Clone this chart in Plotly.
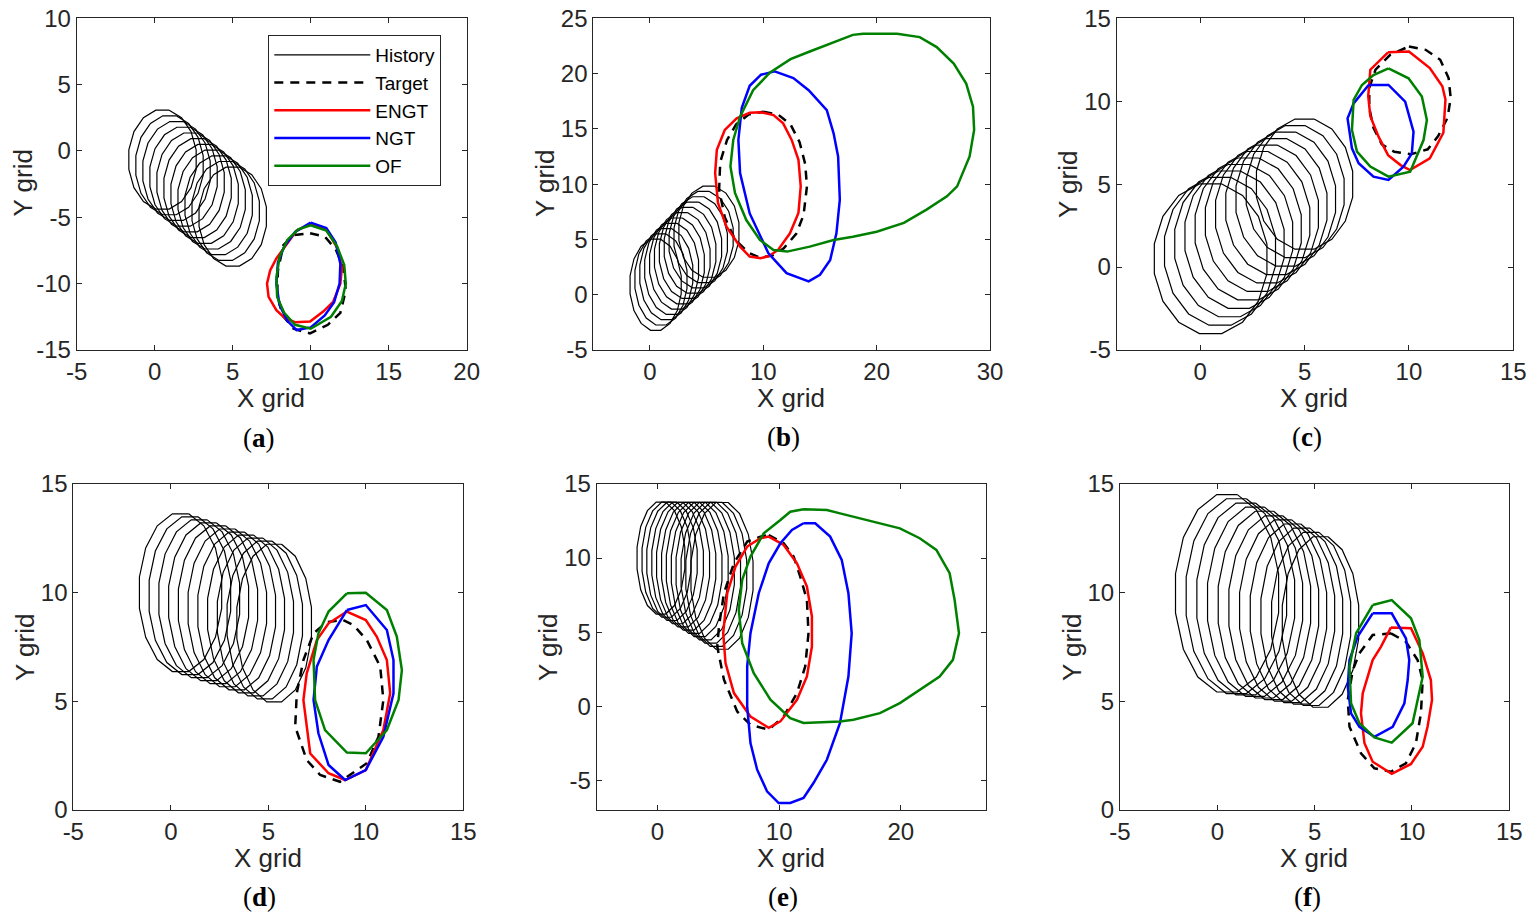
import numpy as np
import plotly.graph_objects as go

# ---------------------------------------------------------------------------
# data (grid units)
# history ellipses: centre / semi-axes per time step
# target and prediction contours: polygon vertices
# ---------------------------------------------------------------------------

# (a)
A_HIST_CX = [0.5, 0.95, 1.4, 1.85, 2.3, 2.75, 3.2, 3.65, 4.1, 4.55, 5.0]
A_HIST_CY = [-0.65, -1.08, -1.51, -1.94, -2.37, -2.8, -3.23, -3.66, -4.09, -4.52, -4.95]
A_HIST_RX = [2.2, 2.2, 2.2, 2.2, 2.2, 2.2, 2.2, 2.2, 2.2, 2.2, 2.2]
A_HIST_RY = [3.8, 3.8, 3.8, 3.8, 3.8, 3.8, 3.8, 3.8, 3.8, 3.8, 3.8]
A_TARGET = [(9.96, -6.2), (10.9, -6.45), (11.6, -7.4), (12.1, -8.8), (12.25, -10.5), (11.9, -12.2),
            (11.1, -13.1), (9.96, -13.75), (8.9, -13.4), (8.2, -12.4), (7.85, -10.8), (7.9, -9.0),
            (8.25, -7.1), (8.9, -6.35)]
A_ENGT = [(10, -5.5), (11, -5.9), (11.7, -7.3), (12.0, -8.8), (11.9, -10), (11.45, -11.35), (10.8, -12.1),
          (9.96, -12.85), (9.0, -12.9), (8.35, -12.6), (7.8, -12), (7.3, -11), (7.2, -10), (7.4, -9),
          (7.8, -8.1), (8.4, -7.1), (9.1, -6.0)]
A_NGT = [(10, -5.4), (11, -5.8), (11.6, -6.9), (11.9, -8.5), (11.85, -10), (11.5, -11.4), (10.9, -12.4),
         (10, -13.3), (9.1, -13.5), (8.5, -12.8), (8.0, -11.6), (7.8, -10), (7.9, -8.4), (8.3, -7.2), (9.0, -6.1)]
A_OF = [(10, -5.6), (11, -6.0), (11.7, -7.2), (12.15, -8.6), (12.25, -10), (12.0, -11.3), (11.3, -12.5),
        (10, -13.4), (9, -13.1), (8.3, -12.2), (7.85, -11), (7.8, -9.6), (8.0, -8.0), (8.5, -6.7), (9.2, -5.9)]

# (b)
B_HIST_CX = [0.5, 0.97, 1.44, 1.91, 2.38, 2.85, 3.32, 3.79, 4.26, 4.73, 5.2]
B_HIST_CY = [0.9, 1.38, 1.86, 2.34, 2.82, 3.3, 3.78, 4.26, 4.74, 5.22, 5.7]
B_HIST_RX = [2.3, 2.34, 2.38, 2.42, 2.46, 2.5, 2.54, 2.58, 2.62, 2.66, 2.7]
B_HIST_RY = [4.2, 4.2, 4.2, 4.2, 4.2, 4.2, 4.2, 4.2, 4.2, 4.2, 4.2]
B_TARGET = [(10, 16.55), (11.3, 16.3), (12.4, 15.4), (13.2, 13.8), (13.7, 11.8), (13.85, 9.8), (13.55, 7.2),
            (12.9, 5.5), (11.8, 4.2), (10.8, 3.55), (9.7, 3.35), (8.7, 3.8), (7.5, 5.0), (6.6, 7.0),
            (6.1, 9.5), (6.2, 12.0), (6.8, 14.0), (7.6, 15.4), (8.7, 16.3)]
B_ENGT = [(9.76, 16.5), (10.9, 16.25), (11.75, 15.5), (12.5, 14.0), (13.1, 12.2), (13.3, 9.8), (13.1, 7.4),
          (12.35, 5.55), (11.3, 4.05), (10.5, 3.5), (9.76, 3.3), (8.8, 3.45), (7.95, 4.35), (6.75, 6.15),
          (6.0, 8.3), (5.75, 11.0), (5.9, 13.1), (6.6, 14.9), (7.65, 15.95), (8.8, 16.45)]
B_NGT = [(11.0, 20.2), (12.65, 19.6), (14.0, 18.5), (15.6, 16.7), (16.2, 14.6), (16.6, 12.5), (16.75, 8.6),
         (16.45, 5.55), (15.9, 3.15), (15.0, 1.8), (14.0, 1.2), (12.05, 1.95), (10.45, 3.75), (8.8, 7.35),
         (7.95, 11.0), (7.8, 14.0), (8.1, 16.9), (8.8, 18.9), (9.8, 19.9)]
B_OF = [(20, 23.6), (21.8, 23.6), (23.8, 23.3), (25.3, 22.4), (26.8, 20.9), (27.9, 19.1), (28.5, 17.0),
        (28.6, 14.9), (28.2, 12.5), (27.6, 11.0), (27.1, 9.8), (26.2, 8.9), (24.4, 7.7), (22.4, 6.5),
        (20, 5.7), (17.9, 5.25), (16.2, 4.95), (14.1, 4.35), (12.1, 3.9), (10.9, 4.05), (9.7, 4.95),
        (8.5, 6.75), (7.5, 9.2), (7.1, 11.6), (7.35, 14.0), (7.95, 16.1), (9.1, 18.5), (10.6, 20.1),
        (12.4, 21.3), (14.1, 22.0), (16.2, 22.8), (17.9, 23.5), (18.8, 23.6)]

# (c)
C_HIST_CX = [0.5, 0.95, 1.4, 1.85, 2.3, 2.75, 3.2, 3.65, 4.1, 4.55, 5.0]
C_HIST_CY = [0.5, 0.95, 1.4, 1.85, 2.3, 2.75, 3.2, 3.65, 4.1, 4.55, 5.0]
C_HIST_RX = [2.75, 2.71, 2.67, 2.63, 2.59, 2.55, 2.51, 2.47, 2.43, 2.39, 2.35]
C_HIST_RY = [4.6, 4.54, 4.48, 4.42, 4.36, 4.3, 4.24, 4.18, 4.12, 4.06, 4.0]
C_TARGET = [(10.0, 13.3), (10.8, 13.1), (11.5, 12.5), (11.9, 11.4), (12.0, 10.2), (11.85, 9.0), (11.4, 7.9),
            (10.9, 7.1), (10.1, 6.8), (9.3, 6.95), (8.7, 7.4), (8.3, 8.4), (8.1, 9.6), (8.1, 10.8),
            (8.4, 11.9), (9.1, 12.8)]
C_ENGT = [(9, 12.95), (10, 13.0), (11, 12.0), (11.6, 10.9), (11.75, 10.1), (11.65, 8.1), (11, 6.55),
          (10.05, 5.85), (9.6, 6.15), (9.0, 6.75), (8.55, 7.85), (8.15, 9.1), (8.05, 10.3), (8.15, 11.9)]
C_NGT = [(8.07, 10.98), (9.02, 10.98), (9.82, 9.98), (10.22, 8.17), (10.14, 6.86), (9.74, 6.06), (9.02, 5.25),
         (8.3, 5.45), (7.59, 6.26), (7.27, 7.16), (7.06, 8.97), (7.35, 9.87)]
C_OF = [(9.02, 11.98), (9.98, 11.38), (10.62, 10.28), (10.86, 8.87), (10.7, 7.66), (10.06, 5.75), (9.02, 5.45),
        (8.15, 6.06), (7.51, 6.96), (7.27, 8.27), (7.35, 10.08), (7.75, 10.98), (8.3, 11.58)]

# (d)
D_HIST_CX = [0.5, 0.98, 1.46, 1.94, 2.42, 2.9, 3.38, 3.86, 4.34, 4.82, 5.3]
D_HIST_CY = [10.0, 9.86, 9.72, 9.58, 9.44, 9.3, 9.16, 9.02, 8.88, 8.74, 8.6]
D_HIST_RX = [2.15, 2.13, 2.11, 2.09, 2.07, 2.05, 2.03, 2.01, 1.99, 1.97, 1.95]
D_HIST_RY = [3.7, 3.7, 3.7, 3.7, 3.7, 3.7, 3.7, 3.7, 3.7, 3.7, 3.7]
D_TARGET = [(8.85, 8.74), (9.37, 8.51), (10.05, 7.82), (10.74, 6.6), (10.9, 5.06), (10.65, 3.37), (10.05, 2.15),
            (8.68, 1.3), (7.66, 1.61), (6.97, 2.3), (6.38, 3.83), (6.46, 5.37), (6.8, 6.9), (7.32, 8.13),
            (8.0, 8.65)]
D_ENGT = [(9.03, 9.13), (10, 8.74), (10.56, 7.98), (11.08, 6.9), (11.25, 5.37), (10.9, 3.68), (10, 1.84),
          (8.94, 1.38), (8.09, 1.69), (7.15, 2.6), (6.8, 5.06), (6.97, 6.29), (7.49, 7.82), (8.09, 8.59)]
D_NGT = [(9.03, 9.2), (10, 9.43), (11.08, 8.28), (11.42, 6.9), (11.42, 5.37), (10.9, 3.37), (10, 1.84),
         (8.94, 1.38), (8.09, 2.07), (7.57, 3.53), (7.32, 5.06), (7.49, 6.6), (8.09, 7.82)]
D_OF = [(9.03, 9.97), (10, 10), (11.08, 9.2), (11.59, 7.98), (11.85, 6.44), (11.68, 5.06), (11.08, 3.68),
        (10, 2.61), (9.03, 2.64), (7.91, 3.68), (7.4, 5.06), (7.32, 6.9), (7.57, 8.13), (8.09, 9.13)]

# (e)
E_HIST_CX = [0.28, 0.74, 1.19, 1.65, 2.1, 2.56, 3.01, 3.47, 3.92, 4.38, 4.83, 5.3]
E_HIST_CY = [10.0, 9.89, 9.78, 9.67, 9.56, 9.45, 9.34, 9.23, 9.12, 9.01, 8.9, 8.8]
E_HIST_RX = [2.0, 2.05, 2.11, 2.16, 2.22, 2.27, 2.33, 2.38, 2.44, 2.49, 2.55, 2.6]
E_HIST_RY = [3.85, 3.96, 4.07, 4.18, 4.29, 4.4, 4.51, 4.62, 4.73, 4.84, 4.95, 5.05]
E_TARGET = [(9.14, 11.56), (10.37, 11.0), (11.19, 10.1), (11.73, 8.75), (12.28, 7.18), (12.41, 4.93),
            (12.14, 2.69), (11.46, 0.89), (10.37, -0.69), (9.14, -1.58), (7.64, -1.25), (6.55, -0.35),
            (5.46, 1.79), (4.91, 4.03), (5.05, 5.38), (5.46, 7.63), (6.28, 9.65), (7.37, 11.11), (8.46, 11.45)]
E_ENGT = [(9.14, 11.45), (10.37, 10.89), (11.46, 9.65), (12.28, 8.08), (12.69, 6.06), (12.69, 4.03),
          (12.28, 2.01), (11.46, 0.44), (10.1, -1.02), (9.14, -1.45), (7.64, -0.69), (6.28, 0.89),
          (5.59, 2.91), (5.4, 4.93), (5.73, 7.63), (6.41, 9.43), (7.37, 10.78), (8.46, 11.34)]
E_NGT = [(12.0, 12.35), (12.96, 12.35), (14.19, 11.45), (15.14, 9.88), (15.69, 7.63), (15.96, 4.93),
         (15.69, 2.01), (15.0, -1.13), (13.92, -3.61), (12.82, -5.18), (12.0, -6.19), (10.91, -6.53),
         (9.96, -6.53), (9.0, -5.74), (8.19, -4.28), (7.64, -2.48), (7.37, -0.01), (7.37, 2.69),
         (7.64, 4.93), (8.32, 7.63), (9.14, 9.65), (10.1, 11.0), (11.05, 11.9)]
E_OF = [(12.0, 13.29), (13.92, 13.25), (15.0, 13.02), (16.64, 12.69), (18.28, 12.35), (19.92, 12.01),
        (21.55, 11.34), (22.92, 10.55), (24.01, 8.98), (24.42, 7.18), (24.78, 4.93), (24.28, 3.13),
        (23.19, 2.01), (21.55, 1.11), (19.92, 0.21), (18.28, -0.46), (16.1, -0.91), (15.0, -1.02),
        (12.0, -1.13), (10.91, -0.8), (9.28, 0.44), (7.91, 2.24), (6.96, 4.26), (6.68, 6.51),
        (6.96, 8.53), (7.64, 10.1), (8.73, 11.67), (10.1, 12.57), (10.91, 13.13)]

# (f)
F_HIST_CX = [0.5, 0.98, 1.46, 1.94, 2.42, 2.9, 3.38, 3.86, 4.34, 4.82, 5.3]
F_HIST_CY = [9.97, 9.84, 9.71, 9.58, 9.45, 9.31, 9.18, 9.05, 8.92, 8.79, 8.65]
F_HIST_RX = [2.7, 2.63, 2.56, 2.49, 2.42, 2.35, 2.28, 2.21, 2.14, 2.07, 2.0]
F_HIST_RY = [4.63, 4.57, 4.5, 4.44, 4.38, 4.31, 4.25, 4.19, 4.13, 4.06, 4.0]
F_TARGET = [(8.92, 8.13), (9.69, 7.74), (10.29, 6.9), (10.55, 5.98), (10.46, 4.45), (10.2, 3.07), (9.69, 2.15),
            (8.92, 1.76), (8.07, 1.92), (7.38, 2.61), (6.79, 3.83), (6.7, 5.06), (6.96, 6.44), (7.3, 7.21),
            (7.98, 8.05)]
F_ENGT = [(8.92, 8.4), (9.95, 8.36), (10.55, 7.21), (10.97, 5.98), (11.03, 5.06), (10.8, 3.83), (10.55, 2.91),
          (9.95, 2.12), (8.96, 1.66), (7.98, 2.22), (7.56, 3.07), (7.38, 4.45), (7.47, 5.37), (7.98, 6.9),
          (8.41, 7.52)]
F_NGT = [(7.98, 9.05), (8.96, 9.05), (9.69, 7.9), (9.86, 6.9), (9.78, 5.98), (9.61, 4.91), (9.01, 3.83),
         (8.07, 3.37), (7.3, 3.83), (6.87, 4.45), (6.7, 5.67), (6.79, 6.9), (7.21, 7.98)]
F_OF = [(7.98, 9.43), (8.96, 9.66), (9.95, 8.82), (10.38, 7.82), (10.55, 6.13), (10.03, 3.99), (8.96, 3.1),
        (8.07, 3.34), (7.3, 3.99), (6.87, 4.91), (6.79, 6.6), (7.13, 8.13)]

# axis ranges and tick labels
A_XRANGE, A_YRANGE = [-5, 20], [-15, 10]
B_XRANGE, B_YRANGE = [-5, 30], [-5, 25]
C_XRANGE, C_YRANGE = [-4, 15], [-5, 15]
D_XRANGE, D_YRANGE = [-5, 15], [0, 15]
E_XRANGE, E_YRANGE = [-5, 27], [-7, 15]
F_XRANGE, F_YRANGE = [-5, 15], [0, 15]
A_XTICKS, A_YTICKS = [-5, 0, 5, 10, 15, 20], [-15, -10, -5, 0, 5, 10]
B_XTICKS, B_YTICKS = [0, 10, 20, 30], [-5, 0, 5, 10, 15, 20, 25]
C_XTICKS, C_YTICKS = [0, 5, 10, 15], [-5, 0, 5, 10, 15]
D_XTICKS, D_YTICKS = [-5, 0, 5, 10, 15], [0, 5, 10, 15]
E_XTICKS, E_YTICKS = [0, 10, 20], [-5, 0, 5, 10, 15]
F_XTICKS, F_YTICKS = [-5, 0, 5, 10, 15], [0, 5, 10, 15]

PANEL_LABELS = ["a", "b", "c", "d", "e", "f"]

W, H = 1535, 920
AX = "#262626"
SANS = "Liberation Sans, Arial, sans-serif"
SERIF = "Liberation Serif, Times New Roman, serif"

# plot boxes in pixels: left, right, top, bottom
BOXES = [(76.7, 466.7, 18.3, 350), (593.3, 990, 18.3, 350), (1116.7, 1513.3, 18.3, 350),
         (73.3, 463.3, 484, 810), (596.7, 986, 484, 810), (1120, 1509.3, 484, 810)]
XTITLE_POS = [(271, 398), (791, 398), (1314, 398), (268, 858), (791, 858), (1314, 858)]
YTITLE_POS = [(22.5, 183), (545, 184), (1068, 185), (25, 648), (548, 648), (1072, 648)]
LABEL_POS = [(259, 438), (784, 437), (1307, 437), (259, 897), (783, 897), (1307, 897)]


def ellipses(cxs, cys, rxs, rys, n=16):
    xs, ys = [], []
    t = (np.arange(n + 1) + 0.5) * 2 * np.pi / n
    for cx, cy, rx, ry in zip(cxs, cys, rxs, rys):
        xs += list(cx + rx * np.sin(t)) + [None]
        ys += list(cy + ry * np.cos(t)) + [None]
    return xs, ys


def closed(pts):
    pts = list(pts) + [pts[0]]
    return [p[0] for p in pts], [p[1] for p in pts]


panels = [
    (A_HIST_CX, A_HIST_CY, A_HIST_RX, A_HIST_RY, A_TARGET, A_ENGT, A_NGT, A_OF, A_XRANGE, A_YRANGE, A_XTICKS, A_YTICKS),
    (B_HIST_CX, B_HIST_CY, B_HIST_RX, B_HIST_RY, B_TARGET, B_ENGT, B_NGT, B_OF, B_XRANGE, B_YRANGE, B_XTICKS, B_YTICKS),
    (C_HIST_CX, C_HIST_CY, C_HIST_RX, C_HIST_RY, C_TARGET, C_ENGT, C_NGT, C_OF, C_XRANGE, C_YRANGE, C_XTICKS, C_YTICKS),
    (D_HIST_CX, D_HIST_CY, D_HIST_RX, D_HIST_RY, D_TARGET, D_ENGT, D_NGT, D_OF, D_XRANGE, D_YRANGE, D_XTICKS, D_YTICKS),
    (E_HIST_CX, E_HIST_CY, E_HIST_RX, E_HIST_RY, E_TARGET, E_ENGT, E_NGT, E_OF, E_XRANGE, E_YRANGE, E_XTICKS, E_YTICKS),
    (F_HIST_CX, F_HIST_CY, F_HIST_RX, F_HIST_RY, F_TARGET, F_ENGT, F_NGT, F_OF, F_XRANGE, F_YRANGE, F_XTICKS, F_YTICKS),
]

fig = go.Figure()
layout = {}
annotations = []

for i, (hcx, hcy, hrx, hry, tgt, engt, ngt, of, xr, yr, xt, yt) in enumerate(panels):
    k = "" if i == 0 else str(i + 1)
    xa, ya = "x" + k, "y" + k
    first = i == 0

    hx, hy = ellipses(hcx, hcy, hrx, hry)
    fig.add_trace(go.Scatter(x=hx, y=hy, mode="lines", name="History", legendgroup="hist",
                             showlegend=first, line=dict(color="black", width=1.2),
                             xaxis=xa, yaxis=ya))
    for pts, name, color, dash in [(tgt, "Target", "black", "9px,7px"),
                                   (engt, "ENGT", "#ff0000", "solid"),
                                   (ngt, "NGT", "#0000ff", "solid"),
                                   (of, "OF", "#008000", "solid")]:
        px_, py_ = closed(pts)
        fig.add_trace(go.Scatter(x=px_, y=py_, mode="lines", name=name, legendgroup=name,
                                 showlegend=first, line=dict(color=color, width=2.5, dash=dash),
                                 xaxis=xa, yaxis=ya))

    l, r, t, b = BOXES[i]
    common = dict(ticks="inside", ticklen=5, tickwidth=1, tickcolor=AX, showline=True,
                  linecolor=AX, linewidth=1, mirror="ticks", showgrid=False, zeroline=False,
                  automargin=False, tickfont=dict(family=SANS, size=24, color=AX))
    layout["xaxis" + k] = dict(domain=[l / W, r / W], range=xr, tickvals=xt,
                               ticktext=[str(v) for v in xt], anchor=ya,
                               ticklabelstandoff=0, **common)
    layout["yaxis" + k] = dict(domain=[1 - b / H, 1 - t / H], range=yr, tickvals=yt,
                               ticktext=[str(v) for v in yt], anchor=xa,
                               ticklabelstandoff=0, **common)

    tx, ty = XTITLE_POS[i]
    annotations.append(dict(text="X grid", x=tx / W, y=1 - ty / H, xref="paper", yref="paper",
                            xanchor="center", yanchor="middle", showarrow=False,
                            font=dict(family=SANS, size=26, color=AX)))
    tx, ty = YTITLE_POS[i]
    annotations.append(dict(text="Y grid", x=tx / W, y=1 - ty / H, xref="paper", yref="paper",
                            xanchor="center", yanchor="middle", showarrow=False, textangle=-90,
                            font=dict(family=SANS, size=26, color=AX)))
    tx, ty = LABEL_POS[i]
    annotations.append(dict(text="(<b>%s</b>)" % PANEL_LABELS[i], x=tx / W, y=1 - ty / H,
                            xref="paper", yref="paper", xanchor="center", yanchor="middle",
                            showarrow=False, font=dict(family=SERIF, size=27, color="black")))

fig.update_layout(
    width=W, height=H, margin=dict(l=0, r=0, t=0, b=0, autoexpand=False),
    paper_bgcolor="white", plot_bgcolor="white",
    annotations=annotations,
    legend=dict(x=268.3 / W, y=1 - 35 / H, xanchor="left", yanchor="top",
                bgcolor="white", bordercolor=AX, borderwidth=1, itemwidth=96,
                tracegroupgap=0, font=dict(family=SANS, size=19, color="black")),
    **layout,
)

# the page's default body margin would shift the figure by 8px
fig.write_html("out.html", config={"displayModeBar": False},
               post_script="document.body.style.margin='0';")
